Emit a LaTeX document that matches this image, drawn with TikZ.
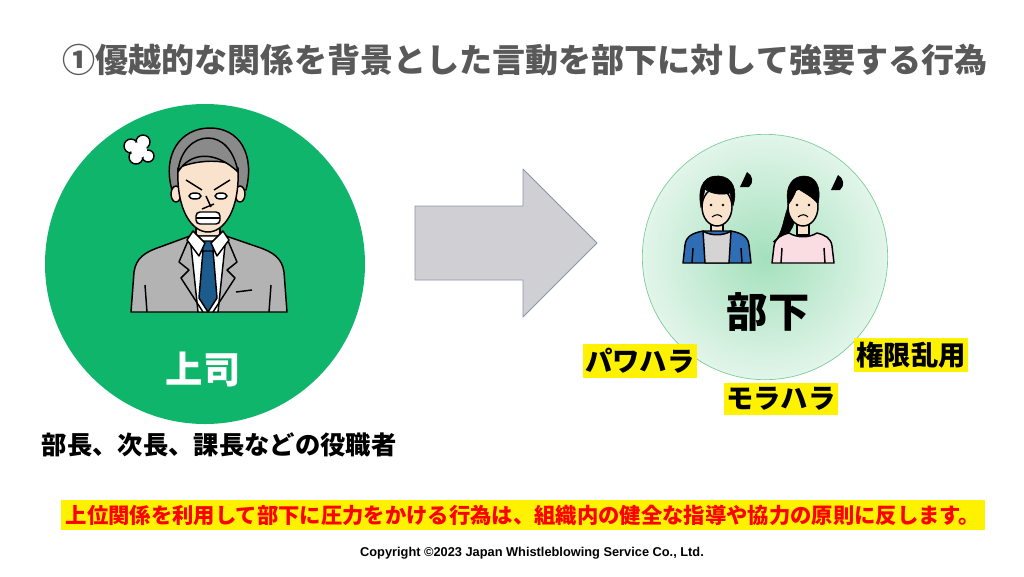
\documentclass[tikz,border=0pt]{standalone}
\usepackage{fontspec}
\setmainfont{Noto Sans CJK JP}
\newfontfamily\latinfont{Liberation Sans}
\usetikzlibrary{positioning}
\definecolor{bossgreen}{HTML}{10B56C}
\definecolor{titlegray}{HTML}{595959}
\definecolor{arrowfill}{HTML}{D0CFD3}
\definecolor{arrowline}{HTML}{8C96AA}
\definecolor{suitgray}{HTML}{B3B3B3}
\definecolor{skin}{HTML}{F9E3CC}
\definecolor{hairgray}{HTML}{8A8A8A}
\definecolor{tieblue}{HTML}{1D5B8C}
\definecolor{jacketblue}{HTML}{2F6DB5}
\definecolor{shirtgray}{HTML}{D4D4D4}
\definecolor{sweaterpink}{HTML}{FADCE3}
\definecolor{softgreen}{HTML}{A4E0BC}
\definecolor{palegreen}{HTML}{E2F5EA}
\definecolor{rimgreen}{HTML}{78CC98}

\begin{document}
\begin{tikzpicture}[x=0.75pt,y=-0.75pt,line join=round,
			outline/.style={draw=black,line width=1.1pt},
			tag/.style={fill=yellow,inner xsep=2pt,inner ysep=3pt,font=\bfseries\fontsize{20.5}{22}\selectfont},
			bigword/.style={font=\bfseries\fontsize{#1}{#1}\selectfont}]
			\useasboundingbox[fill=white] (0,0) rectangle (1024,576);

			\node[bigword=24.8,text=titlegray] (title) at (525,60) {①優越的な関係を背景とした言動を部下に対して強要する行為};

			% boss
			\node[circle,fill=bossgreen,minimum size=240pt] (boss) at (205,264) {};
			\filldraw[fill=hairgray,outline] (172,190) .. controls (162,155) and (180,128) .. (210,128) .. controls (240,128) and (255,155) .. (246,190) -- cycle;
			\filldraw[fill=skin,outline] (196,215) rectangle (220,240);
			\filldraw[fill=suitgray,outline] (131,312) -- (134,272) .. controls (136,258) and (145,252) .. (160,247) -- (190,236) -- (226,236) -- (258,247) .. controls (273,252) and (282,258) .. (284,272) -- (287,312) -- cycle;
			\filldraw[fill=white,outline] (190,236) -- (226,236) -- (218,312) -- (198,312) -- cycle;
			\draw[outline] (190,236) -- (179,262) -- (189,270) -- (181,278) -- (203,312);
			\draw[outline] (226,236) -- (237,262) -- (227,270) -- (235,278) -- (213,312);
			\draw[outline] (145,285) -- (147,312) (271,285) -- (269,312) (236,292) -- (252,290);
			\filldraw[fill=tieblue,outline] (203,250) -- (213,250) -- (217,298) -- (208,312) -- (199,298) -- cycle;
			\filldraw[fill=tieblue,outline] (201,241) -- (215,241) -- (213,251) -- (203,251) -- cycle;
			\filldraw[fill=white,outline] (193,231) -- (205,243) -- (199,256) -- (187,240) -- cycle;
			\filldraw[fill=white,outline] (223,231) -- (211,243) -- (217,256) -- (229,240) -- cycle;
			\filldraw[fill=skin,outline] (176,194) ellipse [x radius=5,y radius=8];
			\filldraw[fill=skin,outline] (240,194) ellipse [x radius=5,y radius=8];
			\filldraw[fill=skin,outline] (178,168) .. controls (176,210) and (192,232) .. (208,232) .. controls (224,232) and (240,210) .. (238,168) .. controls (226,158) and (195,160) .. (178,168) -- cycle;
			\filldraw[fill=hairgray,outline] (178,172) .. controls (190,152) and (215,150) .. (238,172) .. controls (234,150) and (222,138) .. (208,138) .. controls (194,138) and (180,150) .. (178,172) -- cycle;
			\draw[outline] (186,180) -- (202,190) (230,180) -- (214,190) (206,196) -- (211,207) (202,209) -- (214,204);
			\filldraw[fill=white,outline] (195,196) ellipse [x radius=6,y radius=3];
			\filldraw[fill=white,outline] (221,196) ellipse [x radius=6,y radius=3];
			\filldraw[fill=white,outline,rounded corners=3pt] (196,212) rectangle (220,224);
			\draw[line width=0.8pt] (196,218) -- (220,218);
			\filldraw[fill=white,outline] (131,146) circle [radius=7] (143,142) circle [radius=7] (136,157) circle [radius=7] (148,156) circle [radius=6];
			\fill[white] (139,150) circle [radius=8];
			\node[bigword=28,text=white] (bossname) at (203,370) {上司};
			\node[bigword=19,anchor=west] (ranks) at (37,445) {部長、次長、課長などの役職者};

			% arrow
			\filldraw[fill=arrowfill,draw=arrowline,line width=0.6pt] (415,206) -- (523,206) -- (523,169) -- (597,243) -- (523,317) -- (523,280) -- (415,280) -- cycle;

			% subordinates
			\node[circle,shading=radial,inner color=softgreen,outer color=palegreen,draw=rimgreen,line width=0.5pt,minimum size=184pt] (staff) at (765,257) {};
			\filldraw[fill=skin,outline] (711,220) rectangle (723,234);
			\filldraw[fill=jacketblue,outline] (683,263) -- (685,245) .. controls (686,236) and (693,233) .. (703,231) -- (731,231) .. controls (741,233) and (748,236) .. (749,245) -- (751,263) -- cycle;
			\filldraw[fill=shirtgray,outline] (703,231) .. controls (710,236) and (724,236) .. (731,231) -- (729,263) -- (705,263) -- cycle;
			\draw[outline] (692,263) -- (693,248) (742,263) -- (741,248);
			\filldraw[fill=skin,outline] (717,207) ellipse [x radius=15,y radius=19];
			\filldraw[fill=black] (701,208) .. controls (696,182) and (708,175) .. (719,176) .. controls (733,177) and (738,190) .. (733,206) -- (730,193) .. controls (721,196) and (709,193) .. (705,189) -- cycle;
			\fill (711,205) circle [radius=1.3] (723,205) circle [radius=1.3];
			\draw[line width=0.8pt] (712,217) .. controls (716,214) and (719,214) .. (722,217);
			\fill (740,187) -- (747,172) .. controls (753,175) and (754,183) .. (749,187) -- cycle;

			\filldraw[fill=black] (791,200) .. controls (782,218) and (784,234) .. (773,242) .. controls (788,240) and (796,226) .. (796,210) -- cycle;
			\filldraw[fill=skin,outline] (797,220) rectangle (809,235);
			\filldraw[fill=sweaterpink,outline] (772,263) -- (774,246) .. controls (775,238) and (781,235) .. (789,233) .. controls (797,238) and (809,238) .. (817,233) .. controls (825,235) and (831,238) .. (832,246) -- (834,263) -- cycle;
			\draw[outline] (781,263) -- (782,248) (825,263) -- (824,248);
			\filldraw[fill=skin,outline] (803,207) ellipse [x radius=15,y radius=19];
			\filldraw[fill=black] (788,205) .. controls (784,183) and (795,176) .. (804,176) .. controls (815,176) and (822,186) .. (818,204) .. controls (812,196) and (802,192) .. (797,188) .. controls (795,194) and (792,200) .. (788,205) -- cycle;
			\fill (797,205) circle [radius=1.3] (809,205) circle [radius=1.3];
			\draw[line width=0.8pt] (798,217) .. controls (802,214) and (805,214) .. (808,217);
			\fill (831,190) -- (838,175) .. controls (844,178) and (845,186) .. (840,190) -- cycle;

			\node[bigword=31] (staffname) at (768,312) {部下};
			\node[tag] (power) at (640,361) {パワハラ};
			\node[tag] (moral) at (781,399) {モラハラ};
			\node[tag] (abuse) at (911,355) {権限乱用};

			% footer
			\node[fill=yellow,text=red,minimum width=690pt,minimum height=19.5pt,bigword=16] (rule) at (523,515) {上位関係を利用して部下に圧力をかける行為は、組織内の健全な指導や協力の原則に反します。};
			\node[font=\latinfont\bfseries\fontsize{9.6}{11}\selectfont] (copyright) at (532,553) {Copyright ©2023 Japan Whistleblowing Service Co., Ltd.};
\end{tikzpicture}
\end{document}
